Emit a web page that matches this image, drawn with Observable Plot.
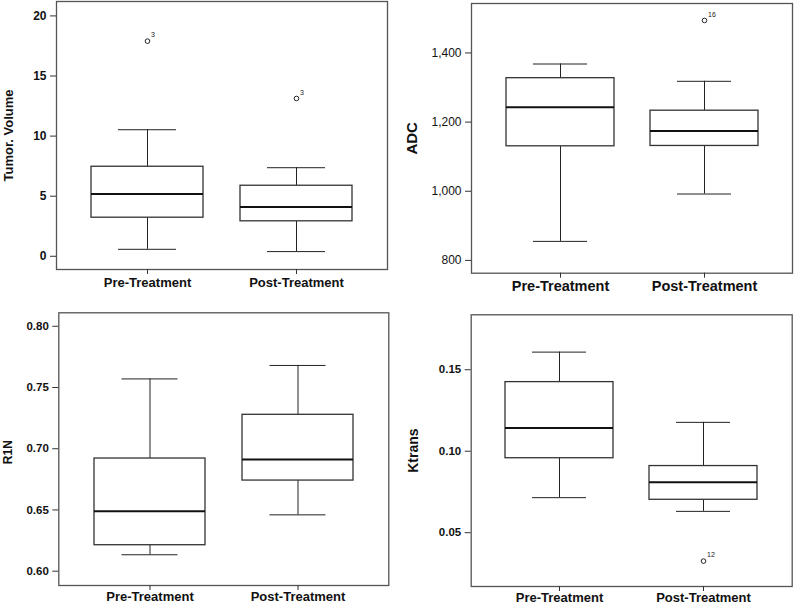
<!DOCTYPE html>
<html>
<head>
<meta charset="utf-8">
<script src="https://cdn.jsdelivr.net/npm/d3@7"></script>
<script src="https://cdn.jsdelivr.net/npm/@observablehq/plot@0.6"></script>
<style>
  html, body { margin: 0; padding: 0; background: #fff; }
  #root { position: relative; width: 795px; height: 605px; overflow: hidden; }
  .panel { position: absolute; }
  .panel svg { overflow: visible; }
</style>
</head>
<body>
<div id="root">
  <div class="panel" id="p1" style="left:0px;top:0px"></div>
  <div class="panel" id="p2" style="left:397px;top:0px"></div>
  <div class="panel" id="p3" style="left:0px;top:300px"></div>
  <div class="panel" id="p4" style="left:397px;top:300px"></div>
</div>
<script>
// ---- Data ----
const categories = ["Pre-Treatment", "Post-Treatment"];

// Tumor. Volume
const tumorLow = [0.58, 0.39];
const tumorQ1 = [3.21, 2.91];
const tumorMedian = [5.18, 4.10];
const tumorQ3 = [7.45, 5.87];
const tumorHigh = [10.53, 7.37];
const tumorOutlierGroup = ["Pre-Treatment", "Post-Treatment"];
const tumorOutlierValue = [17.9, 13.13];
const tumorOutlierId = ["3", "3"];
const tumorTicks = [0, 5, 10, 15, 20];

// ADC
const adcLow = [855, 992];
const adcQ1 = [1130, 1131];
const adcMedian = [1243, 1174];
const adcQ3 = [1327, 1233];
const adcHigh = [1368, 1318];
const adcOutlierGroup = ["Post-Treatment"];
const adcOutlierValue = [1494];
const adcOutlierId = ["16"];
const adcTicks = [800, 1000, 1200, 1400];

// R1N
const r1nLow = [0.6134, 0.646];
const r1nQ1 = [0.6212, 0.674];
const r1nMedian = [0.649, 0.6912];
const r1nQ3 = [0.692, 0.7277];
const r1nHigh = [0.757, 0.768];
const r1nOutlierGroup = [];
const r1nOutlierValue = [];
const r1nOutlierId = [];
const r1nTicks = [0.60, 0.65, 0.70, 0.75, 0.80];

// Ktrans
const ktransLow = [0.0715, 0.0631];
const ktransQ1 = [0.0957, 0.0702];
const ktransMedian = [0.1142, 0.0809];
const ktransQ3 = [0.1424, 0.0909];
const ktransHigh = [0.1608, 0.1177];
const ktransOutlierGroup = ["Post-Treatment"];
const ktransOutlierValue = [0.0326];
const ktransOutlierId = ["12"];
const ktransTicks = [0.05, 0.10, 0.15];

function rowsOf(low, q1, med, q3, high) {
  return categories.map((g, i) => ({group: g, low: low[i], q1: q1[i], median: med[i], q3: q3[i], high: high[i]}));
}
function outliersOf(groups, values, ids) {
  return groups.map((g, i) => ({group: g, value: values[i], id: ids[i]}));
}

function panel(o) {
  const rows = o.rows;
  const outs = o.outliers;
  const cap = o.capInset;
  return Plot.plot({
    width: o.width,
    height: o.height,
    marginLeft: o.ml, marginRight: o.mr, marginTop: o.mt, marginBottom: o.mb,
    style: {fontFamily: "'Liberation Sans', Arial, sans-serif", background: "white", color: "#111"},
    x: {type: "band", domain: categories, paddingInner: 0.25, paddingOuter: 0.235},
    y: {domain: o.domain},
    marks: [
      Plot.ruleX(rows, {x: "group", y1: "low", y2: "q1", stroke: "#222", strokeWidth: 1}),
      Plot.ruleX(rows, {x: "group", y1: "q3", y2: "high", stroke: "#222", strokeWidth: 1}),
      Plot.tickY(rows, {x: "group", y: "low", insetLeft: cap, insetRight: cap, stroke: "#222", strokeWidth: 1}),
      Plot.tickY(rows, {x: "group", y: "high", insetLeft: cap, insetRight: cap, stroke: "#222", strokeWidth: 1}),
      Plot.barY(rows, {x: "group", y1: "q1", y2: "q3", fill: "white", stroke: "#333", strokeWidth: 1.3}),
      Plot.tickY(rows, {x: "group", y: "median", stroke: "#111", strokeWidth: 2}),
      Plot.frame({stroke: "#555", strokeWidth: 1.3}),
      Plot.dot(outs, {x: "group", y: "value", r: 2.3, stroke: "#222", fill: "white", strokeWidth: 1}),
      Plot.text(outs, {x: "group", y: "value", text: "id", dx: 3.5, dy: -6, textAnchor: "start", fontSize: 7, fill: "#222"}),
      Plot.axisY({ticks: o.ticks, tickFormat: o.fmt, tickSize: 6, tickPadding: 4, label: null,
        fontSize: o.yFont, fontWeight: o.yWeight, stroke: "#333", fill: "#111"}),
      Plot.axisX({tickSize: 5, tickPadding: o.xPad, label: null, fontSize: o.xFont, fontWeight: "bold", stroke: "#333", fill: "#111"}),
      Plot.text([o.title], {text: d => d, frameAnchor: "left", dx: o.titleDx, dy: o.titleDy || 0, rotate: -90,
        fontSize: o.titleSize, fontWeight: "bold", fill: "#111", textAnchor: "middle"})
    ]
  });
}

document.getElementById("p1").appendChild(panel({
  width: 397, height: 300, ml: 56, mr: 10, mt: 1, mb: 31,
  domain: [-1.1, 21.2], ticks: tumorTicks, fmt: d3.format("d"), yFont: 12, yWeight: "bold",
  rows: rowsOf(tumorLow, tumorQ1, tumorMedian, tumorQ3, tumorHigh),
  outliers: outliersOf(tumorOutlierGroup, tumorOutlierValue, tumorOutlierId),
  capInset: 27, xFont: 13, xPad: 3, title: "Tumor. Volume", titleDx: -48, titleSize: 13
}));

document.getElementById("p2").appendChild(panel({
  width: 398, height: 300, ml: 74, mr: 3, mt: 3, mb: 27.3,
  domain: [763, 1543], ticks: adcTicks, fmt: d3.format(","), yFont: 12, yWeight: "normal",
  rows: rowsOf(adcLow, adcQ1, adcMedian, adcQ3, adcHigh),
  outliers: outliersOf(adcOutlierGroup, adcOutlierValue, adcOutlierId),
  capInset: 27, xFont: 14.5, xPad: 3, title: "ADC", titleDx: -59, titleSize: 15
}));

document.getElementById("p3").appendChild(panel({
  width: 397, height: 305, ml: 58.3, mr: 8.7, mt: 12.3, mb: 20,
  domain: [0.5883, 0.811], ticks: r1nTicks, fmt: d3.format(".2f"), yFont: 11.5, yWeight: "bold",
  rows: rowsOf(r1nLow, r1nQ1, r1nMedian, r1nQ3, r1nHigh),
  outliers: outliersOf(r1nOutlierGroup, r1nOutlierValue, r1nOutlierId),
  capInset: 27.5, xFont: 13, xPad: 1.5, title: "R1N", titleDx: -51, titleDy: 3, titleSize: 12
}));

document.getElementById("p4").appendChild(panel({
  width: 398, height: 305, ml: 73.7, mr: 3.3, mt: 14.3, mb: 19,
  domain: [0.017, 0.1837], ticks: ktransTicks, fmt: d3.format(".2f"), yFont: 11.5, yWeight: "bold",
  rows: rowsOf(ktransLow, ktransQ1, ktransMedian, ktransQ3, ktransHigh),
  outliers: outliersOf(ktransOutlierGroup, ktransOutlierValue, ktransOutlierId),
  capInset: 27, xFont: 13, xPad: 1.5, title: "Ktrans", titleDx: -58, titleSize: 14
}));
</script>
</body>
</html>
